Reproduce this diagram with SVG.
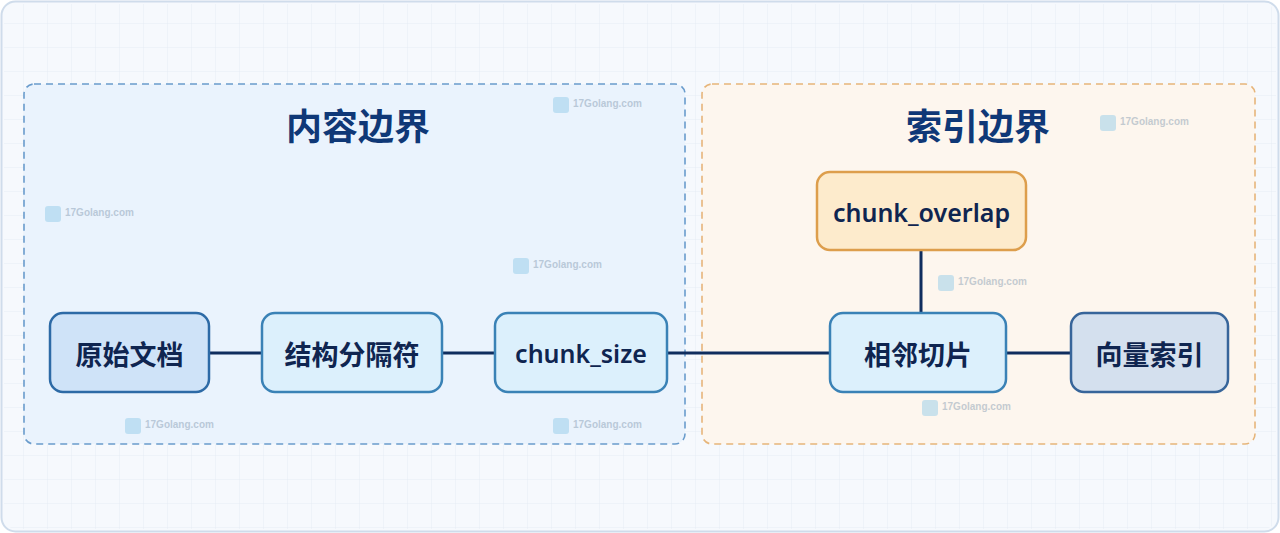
<svg xmlns="http://www.w3.org/2000/svg" width="1280" height="533" viewBox="0 0 1280 533">
<defs>
<pattern id="grid" width="24" height="24" patternUnits="userSpaceOnUse">
<path d="M24 0V24M0 24H24" fill="none" stroke="#e6edf5" stroke-width="1"/>
</pattern>
<style>
.title{font-family:"Noto Sans CJK SC","Noto Sans",sans-serif;font-weight:700;font-size:36px;fill:#0f3877;text-anchor:middle}
.lbl{font-family:"Noto Sans CJK SC","Noto Sans",sans-serif;font-weight:700;font-size:27px;fill:#0f2550;text-anchor:middle;dominant-baseline:central}
.lat{font-family:"Noto Sans","Noto Sans CJK SC",sans-serif;font-weight:600;font-size:25px;fill:#0f2550;text-anchor:middle;dominant-baseline:central}
.blue{fill:#dcf0fc;stroke:#3a82b6;stroke-width:2.5}
.conn{stroke:#0f2d5e;stroke-width:3;fill:none}
.wm{opacity:0.45}
.wm text{font-family:"Liberation Sans",sans-serif;font-weight:700;font-size:10px;fill:#7f96ad}
.wm rect{fill:#8cc8e8}
</style>
</defs>
<rect x="1.5" y="1.5" width="1277" height="530" rx="14" fill="#f6f9fd" stroke="#cfdceb" stroke-width="2"/>
<rect x="4" y="4" width="1272" height="525" rx="12" fill="url(#grid)"/>

<g id="content-boundary">
<rect x="24" y="84" width="661" height="360" rx="10" fill="#eaf3fd" stroke="#6a9ccc" stroke-width="1.6" stroke-dasharray="7 5"/>
<text class="title" x="358" y="140">内容边界</text>
</g>
<g id="index-boundary">
<rect x="702" y="84" width="553" height="360" rx="10" fill="#fdf6ee" stroke="#e6b57a" stroke-width="1.6" stroke-dasharray="7 5"/>
<text class="title" x="978" y="140">索引边界</text>
</g>

<g id="watermarks">
<g class="wm" transform="translate(45,206)"><rect width="16" height="16" rx="3"/><text x="20" y="10">17Golang.com</text></g>
<g class="wm" transform="translate(513,258)"><rect width="16" height="16" rx="3"/><text x="20" y="10">17Golang.com</text></g>
<g class="wm" transform="translate(553,97)"><rect width="16" height="16" rx="3"/><text x="20" y="10">17Golang.com</text></g>
<g class="wm" transform="translate(125,418)"><rect width="16" height="16" rx="3"/><text x="20" y="10">17Golang.com</text></g>
<g class="wm" transform="translate(553,418)"><rect width="16" height="16" rx="3"/><text x="20" y="10">17Golang.com</text></g>
<g class="wm" transform="translate(938,275)"><rect width="16" height="16" rx="3"/><text x="20" y="10">17Golang.com</text></g>
<g class="wm" transform="translate(922,400)"><rect width="16" height="16" rx="3"/><text x="20" y="10">17Golang.com</text></g>
<g class="wm" transform="translate(1100,115)"><rect width="16" height="16" rx="3"/><text x="20" y="10">17Golang.com</text></g>
</g>

<g id="connectors">
<line class="conn" x1="209" y1="353" x2="262" y2="353"/>
<line class="conn" x1="442" y1="353" x2="495" y2="353"/>
<line class="conn" x1="667" y1="353" x2="830" y2="353"/>
<line class="conn" x1="1006" y1="353" x2="1071" y2="353"/>
<line class="conn" x1="921" y1="250" x2="921" y2="313"/>
</g>

<g id="raw-doc">
<rect x="50" y="313" width="159" height="79" rx="13" fill="#cfe3f8" stroke="#2d6aa6" stroke-width="2.5"/>
<text class="lbl" x="129.5" y="353">原始文档</text>
</g>
<g id="separator">
<rect class="blue" x="262" y="313" width="180" height="79" rx="13"/>
<text class="lbl" x="352" y="353">结构分隔符</text>
</g>
<g id="chunk-size">
<rect class="blue" x="495" y="313" width="172" height="79" rx="13"/>
<text class="lat" x="581" y="353">chunk_size</text>
</g>
<g id="chunk-overlap">
<rect x="817" y="172" width="209" height="78" rx="13" fill="#fdebcc" stroke="#dd9e4c" stroke-width="2.5"/>
<text class="lat" x="921.5" y="212">chunk_overlap</text>
</g>
<g id="adjacent-chunks">
<rect class="blue" x="830" y="313" width="176" height="79" rx="13"/>
<text class="lbl" x="918" y="353">相邻切片</text>
</g>
<g id="vector-index">
<rect x="1071" y="313" width="157" height="79" rx="13" fill="#d4e0ee" stroke="#37659a" stroke-width="2.5"/>
<text class="lbl" x="1149.5" y="353">向量索引</text>
</g>
</svg>
